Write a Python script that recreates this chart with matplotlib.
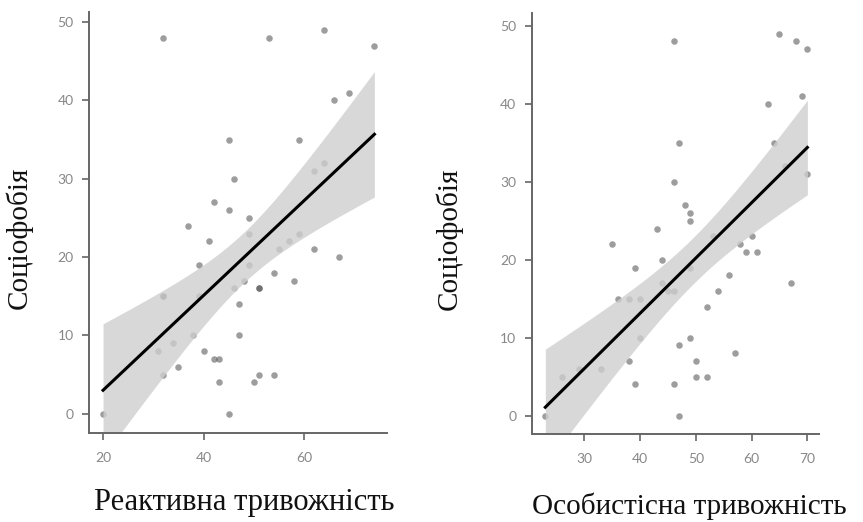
import numpy as np
import matplotlib

matplotlib.use("Agg")
import matplotlib.pyplot as plt  # noqa: E402

# Соціофобія vs реактивна тривожність
react_x = [32, 53, 64, 74, 69, 66, 45, 59, 64, 62, 46, 42, 45, 37, 49, 49, 41,
           55, 57, 59, 62, 67, 20, 39, 32, 32, 39, 38, 34, 31, 40, 42, 43, 35,
           32, 43, 45, 46, 47, 47, 49, 48, 54, 58, 51, 51, 51, 54, 50]
react_y = [48, 48, 49, 47, 41, 40, 35, 35, 32, 31, 30, 27, 26, 24, 25, 23, 22,
           21, 22, 23, 21, 20, 0, 19, 15, 15, 15, 10, 9, 8, 8, 7, 7, 6,
           5, 4, 0, 16, 14, 10, 19, 17, 18, 17, 16, 16, 5, 5, 4]

# Соціофобія vs особистісна тривожність
pers_x = [46, 65, 68, 70, 69, 63, 47, 64, 46, 70, 66, 48, 49, 49, 43, 35, 53,
          58, 60, 59, 61, 44, 39, 49, 56, 67, 44, 54, 45, 46, 36, 38, 40, 52,
          40, 49, 47, 57, 38, 50, 33, 29, 26, 50, 52, 39, 46, 23, 47]
pers_y = [48, 49, 48, 47, 41, 40, 35, 35, 30, 31, 32, 27, 26, 25, 24, 22, 23,
          22, 23, 21, 21, 20, 19, 19, 18, 17, 17, 16, 16, 16, 15, 15, 15, 14,
          10, 10, 9, 8, 7, 7, 6, 6, 5, 5, 5, 4, 4, 0, 0]

y_label = "Соціофобія"
x_labels = ["Реактивна тривожність", "Особистісна тривожність"]
react_ticks = [20, 40, 60]
pers_ticks = [30, 40, 50, 60, 70]
y_ticks = [0, 10, 20, 30, 40, 50]

T_CRIT = 2.012  # t(0.975, df=47)


def regline(ax, x, y):
    x = np.asarray(x, float)
    y = np.asarray(y, float)
    n = len(x)
    b, a = np.polyfit(x, y, 1)
    resid = y - (a + b * x)
    s = np.sqrt((resid ** 2).sum() / (n - 2))
    xs = np.linspace(x.min(), x.max(), 200)
    yhat = a + b * xs
    se = s * np.sqrt(1 / n + (xs - x.mean()) ** 2 / ((x - x.mean()) ** 2).sum())
    ax.scatter(x, y, s=22, color="#4d4d4d", alpha=0.55, linewidths=0, zorder=1)
    ax.fill_between(xs, yhat - T_CRIT * se, yhat + T_CRIT * se,
                    color="#cfcfcf", alpha=0.8, linewidth=0, zorder=2)
    ax.plot(xs, yhat, color="black", lw=2.2, zorder=3)


fig = plt.figure(figsize=(8.63, 5.22), dpi=100)
ax1 = fig.add_axes([0.1031, 0.1705, 0.3453, 0.8065])
ax2 = fig.add_axes([0.6161, 0.1686, 0.3330, 0.8059])

regline(ax1, react_x, react_y)
regline(ax2, pers_x, pers_y)

ax1.set_xlim(17.2, 76.5)
ax1.set_ylim(-2.46, 51.3)
ax2.set_xlim(20.56, 72.1)
ax2.set_ylim(-2.35, 51.6)
ax1.set_xticks(react_ticks)
ax2.set_xticks(pers_ticks)

for ax, xl, fs, ylx, xlx, xly in [(ax1, x_labels[0], 22, -0.19, 0.52, -0.13),
                                  (ax2, x_labels[1], 21, -0.24, 0.55, -0.14)]:
    ax.set_yticks(y_ticks)
    for side in ("top", "right"):
        ax.spines[side].set_visible(False)
    for side in ("left", "bottom"):
        ax.spines[side].set_color("#666666")
        ax.spines[side].set_linewidth(1.4)
    ax.tick_params(axis="both", colors="#666666", labelcolor="#888888",
                   length=5, width=1.2, labelsize=10)
    ax.tick_params(axis="x", pad=9)
    ax.tick_params(axis="y", pad=6)
    for lab in ax.get_xticklabels() + ax.get_yticklabels():
        lab.set_fontfamily("Lato")
    ax.set_ylabel(y_label, fontsize=21, family="Liberation Serif", color="#111111")
    ax.yaxis.set_label_coords(ylx, 0.463)
    ax.set_xlabel(xl, fontsize=fs, family="Liberation Serif", color="#111111")
    ax.xaxis.set_label_coords(xlx, xly)

fig.savefig("out.png", dpi=100, facecolor="white")
